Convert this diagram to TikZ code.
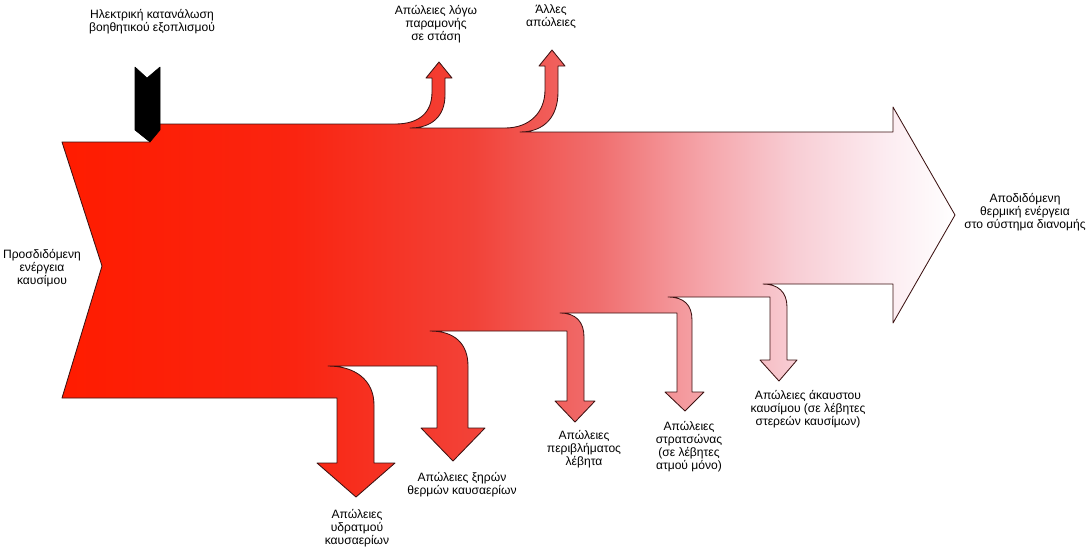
\documentclass[tikz,border=0pt]{standalone}
\usepackage{fontspec}
\setmainfont{Liberation Sans}
\definecolor{flowred}{RGB}{255,28,0}
\definecolor{flowline}{RGB}{60,18,18}
\pgfdeclarehorizontalshading{lossflow}{100bp}{
  color(0bp)=(flowred); color(25bp)=(flowred);
  color(38bp)=(rgb,255:red,250;green,36;blue,16);
  color(48bp)=(rgb,255:red,242;green,66;blue,56);
  color(55bp)=(rgb,255:red,240;green,110;blue,110);
  color(61bp)=(rgb,255:red,245;green,165;blue,170);
  color(66bp)=(rgb,255:red,248;green,205;blue,212);
  color(71bp)=(rgb,255:red,252;green,235;blue,240);
  color(75bp)=(white); color(100bp)=(white)}
\tikzset{
  flow/.style = {
    draw=flowline, line width=0.6pt, line join=round,
    shade, shading=lossflow
  },
  lbl/.style = {
    align=center, inner sep=0pt,
    font=\fontsize{8.6}{9.3}\selectfont
  }
}

\begin{document}
\begin{tikzpicture}[x=0.025cm,y=-0.025cm]
  \useasboundingbox (0,0) rectangle (1088,549);
  % main band with the loss branches
  \draw[flow]
    (62,142) -- (150,142) -- (150,124) -- (395,124)
    .. controls (420,124) and (432,112) .. (432,92) -- (432,78)
    -- (426,78) -- (439,62) -- (452,78) -- (445,78) -- (445,95)
    .. controls (445,116) and (432,128) .. (410,128) -- (505,128)
    .. controls (530,128) and (545,112) .. (545,90) -- (545,66)
    -- (539,66) -- (552,50) -- (565,66) -- (558,66) -- (558,92)
    .. controls (558,116) and (545,132) .. (520,132)
    -- (893,132) -- (893,107) -- (955,215) -- (893,323) -- (893,284)
    -- (763,284) .. controls (778,284) and (787,292) .. (787,307)
    -- (787,360) -- (797,360) -- (779,381) -- (760,360) -- (770,360) -- (770,297)
    -- (668,297) .. controls (684,297) and (692,305) .. (692,320)
    -- (692,392) -- (704,392) -- (685,411) -- (665,392) -- (677,392) -- (677,313)
    -- (560,313) .. controls (576,313) and (584,322) .. (584,337)
    -- (584,401) -- (595,401) -- (575,422) -- (555,401) -- (567,401) -- (567,331)
    -- (430,331) .. controls (455,331) and (468,344) .. (468,366)
    -- (468,428) -- (485,428) -- (453,461) -- (421,428) -- (437,428) -- (437,366)
    -- (328,366) .. controls (355,366) and (374,380) .. (374,405)
    -- (374,463) -- (395,463) -- (356,497) -- (317,463) -- (337,463) -- (337,398)
    -- (62,398) -- (102,266) -- cycle;
  % auxiliary electricity input
  \draw[fill=black, line join=round]
    (135,67) -- (147,78) -- (160,67) -- (160,130) -- (150,142) -- (135,130) -- cycle;
  % labels
  \node[lbl] (aux)     at (152,22)  {Ηλεκτρική κατανάλωση\\βοηθητικού εξοπλισμού};
  \node[lbl] (standby) at (436,24)  {Απώλειες λόγω\\παραμονής\\σε στάση};
  \node[lbl] (other)   at (551,17)  {Άλλες\\απώλειες};
  \node[lbl] (fuel)    at (42,268)  {Προσδιδόμενη\\ενέργεια\\καυσίμου};
  \node[lbl] (output)  at (1025,212) {Αποδιδόμενη\\θερμική ενέργεια\\στο σύστημα διανομής};
  \node[lbl] (vapour)  at (357,528) {Απώλειες\\υδρατμού\\καυσαερίων};
  \node[lbl] (dryflue) at (462,485) {Απώλειες ξηρών\\θερμών καυσαερίων};
  \node[lbl] (casing)  at (584,449) {Απώλειες\\περιβλήματος\\λέβητα};
  \node[lbl] (blowdn)  at (689,447) {Απώλειες\\στρατσώνας\\(σε λέβητες\\ατμού μόνο)};
  \node[lbl] (unburnt) at (808,409) {Απώλειες άκαυστου\\καυσίμου (σε λέβητες\\στερεών καυσίμων)};
\end{tikzpicture}
\end{document}
